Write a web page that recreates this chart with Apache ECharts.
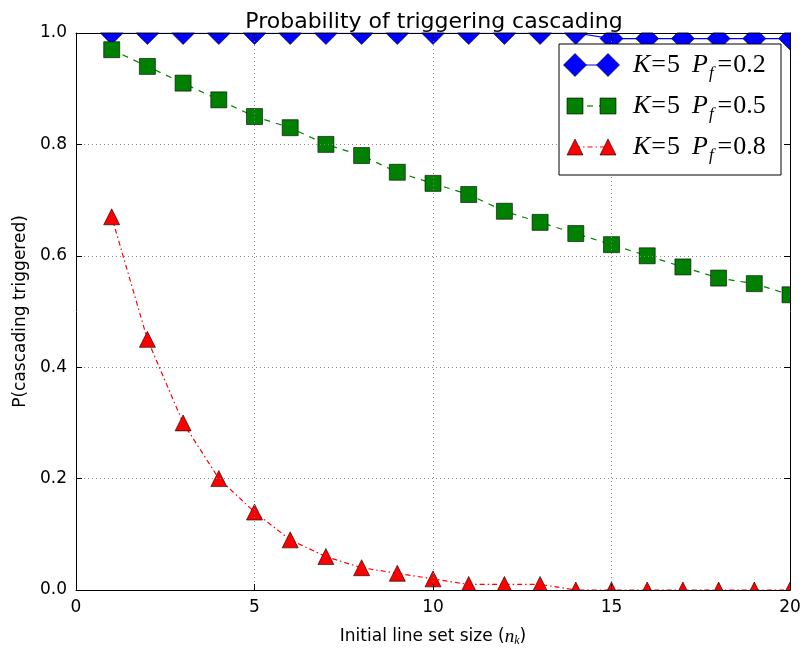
<!DOCTYPE html>
<html><head><meta charset="utf-8">
<script src="https://cdn.jsdelivr.net/npm/echarts@6/dist/echarts.min.js"></script>
<style>html,body{margin:0;padding:0;background:#fff}#c{width:804px;height:651px}</style>
</head><body><div id="c"></div>
<script>
const xValues = [1,2,3,4,5,6,7,8,9,10,11,12,13,14,15,16,17,18,19,20];
const blueValues = [1,1,1,1,1,1,1,1,1,1,1,1,1,1,0.99,0.99,0.99,0.99,0.99,0.99];
const greenValues = [0.97,0.94,0.91,0.88,0.85,0.83,0.80,0.78,0.75,0.73,0.71,0.68,0.66,0.64,0.62,0.60,0.58,0.56,0.55,0.53];
const redValues = [0.67,0.45,0.30,0.20,0.14,0.09,0.06,0.04,0.03,0.02,0.01,0.01,0.01,0,0,0,0,0,0,0];
const seriesNames = ['K=5 Pf=0.2','K=5 Pf=0.5','K=5 Pf=0.8'];
const pfLabels = ['0.2','0.5','0.8'];
const seriesColors = ['#0000ff','#008000','#ff0000'];
const xTickStep = 5, yTickStep = 0.2;

const G = {left:76, right:14, top:33, bottom:61};
const W = 804, H = 651;
const mathFont = '"Liberation Serif","DejaVu Serif",serif';
const sansFont = '"DejaVu Sans",sans-serif';

function pairs(vals){ return xValues.map((x,i)=>[x, vals[i]]); }

const symbols = ['diamond','rect','triangle'];
const symSizes = [23,16,16];
const dashes = ['solid',[6,6],[5,3,1.5,3]];

const series = [blueValues, greenValues, redValues].map((vals,i)=>({
  name: seriesNames[i], type:'line', data: pairs(vals),
  symbol: symbols[i], symbolSize: symSizes[i], z: 2, zlevel: 0,
  itemStyle:{color: seriesColors[i], borderColor:'#000', borderWidth:0.6},
  lineStyle:{color: seriesColors[i], width:1.2, type: dashes[i]},
  emphasis:{disabled:true}, animation:false, clip:true
}));

const legendChildren = [];
const lx = 559, ly = 44, lw = 222, lh = 131;
legendChildren.push({type:'rect', shape:{x:lx,y:ly,width:lw,height:lh}, style:{fill:'#fff', stroke:'#000', lineWidth:1}, zlevel:1, z:150});
const rowY = [65,106,147];
for (let i=0;i<3;i++){
  const y = rowY[i], x1 = 575, x2 = 608;
  legendChildren.push({type:'line', shape:{x1:x1,y1:y,x2:x2,y2:y}, style:{stroke:seriesColors[i], lineWidth:1.2, lineDash: dashes[i]==='solid'?null:dashes[i]}, zlevel:1, z:151});
  [x1,x2].forEach(cx=>{
    let el;
    if (i===0) el = {type:'polygon', shape:{points:[[cx,y-11.5],[cx+11.5,y],[cx,y+11.5],[cx-11.5,y]]}};
    else if (i===1) el = {type:'rect', shape:{x:cx-8,y:y-8,width:16,height:16}};
    else el = {type:'polygon', shape:{points:[[cx,y-8],[cx+8,y+8],[cx-8,y+8]]}};
    el.style = {fill: seriesColors[i], stroke:'#000', lineWidth:0.6};
    el.zlevel = 1; el.z = 152;
    legendChildren.push(el);
  });
  legendChildren.push({type:'text', x:633, y:y, zlevel:1, z:152, style:{
    text:'{i|K}{e|=}{n|5}{sp| }{i|P}{s|f}{e|=}{n|' + pfLabels[i] + '}',
    verticalAlign:'middle', fill:'#000',
    rich:{
      i:{fontFamily:mathFont, fontStyle:'italic', fontSize:26, fill:'#000'},
      n:{fontFamily:mathFont, fontSize:26, fill:'#000'},
      e:{fontFamily:mathFont, fontSize:26, fill:'#000', padding:[0,1,0,1]},
      sp:{fontFamily:mathFont, fontSize:26, width:12},
      s:{fontFamily:mathFont, fontStyle:'italic', fontSize:17, fill:'#000', padding:[18,3,0,1]}
    }
  }});
}

const overlays = [
  {type:'rect', shape:{x:G.left+0.5, y:0, width:W-G.left, height:G.top-0.5}, style:{fill:'#fff'}, zlevel:1, z:50},
  {type:'rect', shape:{x:W-G.right+0.5, y:0, width:G.right, height:H-G.bottom+10}, style:{fill:'#fff'}, zlevel:1, z:50},
  {type:'rect', shape:{x:G.left+0.5, y:H-G.bottom+0.5, width:W-G.left, height:12}, style:{fill:'#fff'}, zlevel:1, z:50}
];

const axisCommon = {
  type:'value', zlevel:1, z:100,
  axisLine:{show:true, onZero:false, lineStyle:{color:'#000', width:1}},
  axisTick:{show:true, inside:true, length:6, lineStyle:{color:'#000', width:1}},
};

const chart = echarts.init(document.getElementById('c'), null, {renderer:'canvas'});
chart.setOption({
  animation:false,
  backgroundColor:'#fff',
  title:{text:'Probability of triggering cascading', left:429, top:6, textAlign:'center', zlevel:1, z:200,
    textStyle:{fontFamily:sansFont, fontWeight:'normal', fontSize:22, color:'#000'}},
  grid:{left:G.left, right:G.right, top:G.top, bottom:G.bottom, containLabel:false, outerBoundsMode:'none'},
  xAxis:[
    Object.assign({}, axisCommon, {min:0, max:20, interval:xTickStep, position:'bottom',
      axisLabel:{color:'#000', fontSize:17, fontFamily:sansFont, margin:9},
      splitLine:{show:true, lineStyle:{color:'#888', width:1, type:[1,3]}},
      name:'{t|Initial line set size (}{m|n}{k|k}{t|)}', nameLocation:'middle', nameGap:36,
      nameTextStyle:{rich:{
        t:{fontFamily:sansFont, fontSize:17, color:'#000'},
        m:{fontFamily:mathFont, fontStyle:'italic', fontSize:19, color:'#000'},
        k:{fontFamily:mathFont, fontStyle:'italic', fontSize:12, color:'#000', padding:[9,0,0,0]}
      }}}),
    Object.assign({}, axisCommon, {min:0, max:20, interval:xTickStep, position:'top',
      axisLabel:{show:false}, splitLine:{show:false}})
  ],
  yAxis:[
    Object.assign({}, axisCommon, {min:0, max:1, interval:yTickStep, position:'left',
      axisLabel:{color:'#000', fontSize:17, fontFamily:sansFont, margin:9, formatter:v=>v.toFixed(1)},
      splitLine:{show:true, lineStyle:{color:'#888', width:1, type:[1,3]}},
      name:'P(cascading triggered)', nameLocation:'middle', nameGap:44,
      nameTextStyle:{fontFamily:sansFont, fontSize:17, color:'#000'}}),
    Object.assign({}, axisCommon, {min:0, max:1, interval:yTickStep, position:'right',
      axisLabel:{show:false}, splitLine:{show:false}})
  ],
  series: series,
  graphic:{elements: overlays.concat(legendChildren)}
});
</script></body></html>
